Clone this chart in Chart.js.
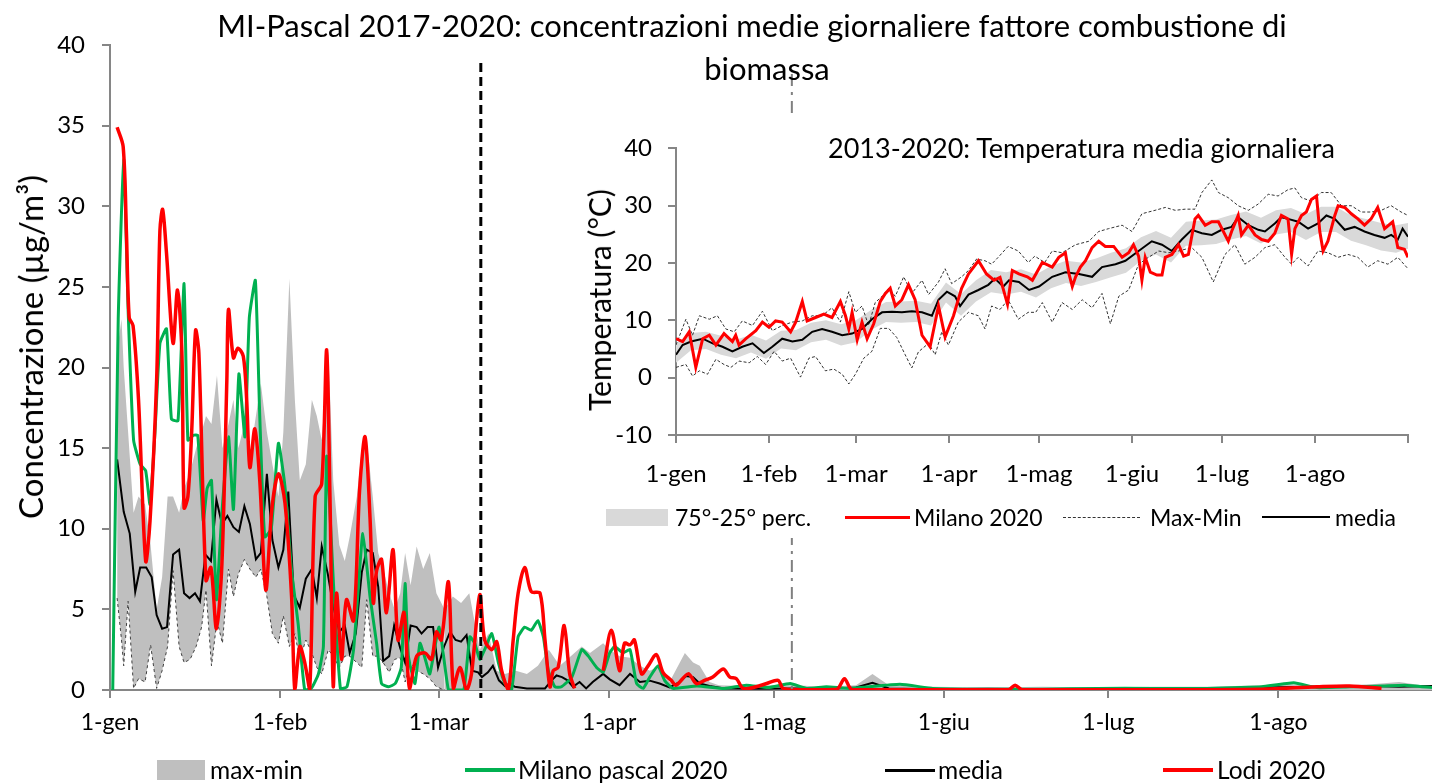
<!DOCTYPE html>
<html>
<head>
<meta charset="utf-8">
<script src="https://cdn.jsdelivr.net/npm/chart.js@4.4.1/dist/chart.umd.min.js"></script>
<style>
  body { margin: 0; background: #fff; font-family: Lato, sans-serif; color: #000; }
  #wrap { position: relative; width: 1432px; height: 784px; overflow: hidden; }
  .abs { position: absolute; white-space: nowrap; }
  .ttl { font-size: 31px; line-height: 36px; text-align: center; }
  .vtitle { transform: translate(-50%, -50%) rotate(-90deg); }
  .leg { font-size: 24.5px; line-height: 24px; }
  .ileg { font-size: 23px; line-height: 24px; }
</style>
</head>
<body>
<div id="wrap">
  <canvas id="mainChart" width="1432" height="784" class="abs" style="left:0;top:0"></canvas>
  <div class="abs ttl" style="left:0;top:7px;width:1504px">MI-Pascal 2017-2020: concentrazioni medie giornaliere fattore combustione di</div>
  <div class="abs ttl" style="left:0;top:50px;width:1534px">biomassa</div>
  <div class="abs vtitle" style="left:30px;top:347px;font-size:33px">Concentrazione (µg/m³)</div>
  <div id="insetBox" class="abs" style="left:580px;top:118px;width:845px;height:420px;background:#fff">
    <canvas id="insetChart" width="845" height="420"></canvas>
  </div>
  <div class="abs" style="left:828px;top:132px;font-size:27px;line-height:32px">2013-2020: Temperatura media giornaliera</div>
  <div class="abs vtitle" style="left:599px;top:300px;font-size:30px">Temperatura (°C)</div>
  <div id="legends"></div>
</div>
<script>
// ---- Main chart data (day of year 2020, 0 = 1 Jan) ----
const MONTH_DAYS = [0, 31, 60, 91, 121, 152, 182, 213];
const MONTH_LABELS = ['1-gen', '1-feb', '1-mar', '1-apr', '1-mag', '1-giu', '1-lug', '1-ago'];
const LOCKDOWN_DAY = 67.6;   // dashed black marker
const PHASE2_DAY = 124.3;    // dash-dot grey marker

// Lodi 2020
const lodiDays = [
  1.3, 2.4, 3.0, 3.5, 4.2, 5.2, 6.5, 7.3, 8.5, 9.1,
  9.6, 10.3, 11.5, 12.3, 13.1, 13.5, 14.2, 14.9, 15.6, 16.2,
  17.5, 18.4, 19.4, 20.4, 21.3, 21.6, 22.5, 23.3, 24.3, 24.9,
  25.5, 26.4, 27.3, 28.4, 29.5, 30.7, 31.9, 33.1, 33.7, 34.6,
  35.5, 36.4, 37.4, 38.6, 39.5, 40.1, 40.7, 41.3, 42.2, 43.1,
  44.4, 45.5, 46.5, 47.4, 48.0, 48.6, 49.5, 50.4, 51.6, 52.5,
  53.6, 54.6, 55.9, 57.4, 58.6, 59.5, 60.4, 61.7, 62.6, 63.8,
  65.0, 65.9, 67.4, 68.3, 69.6, 70.5, 71.4, 72.6, 73.5, 74.4,
  75.6, 76.8, 78.4, 79.3, 80.2, 80.8, 81.7, 82.8, 83.8, 84.7,
  87.0, 89.9, 91.4, 92.9, 93.8, 94.8, 95.6, 96.9, 98.1, 99.6,
  100.8, 102.3, 103.2, 105.4, 106.9, 108.4, 109.9, 111.8, 113.0, 114.2,
  115.4, 117.8, 119.7, 121.8, 122.7, 126, 132.5, 133.9, 135.3, 150,
  163.8, 165, 166.3, 190, 210, 220, 226, 231.8
];
const lodiVals = [
  34.9, 33.7, 28.3, 23.1, 22.6, 18.0, 8.0, 10.5, 19.2, 28.5,
  29.8, 27.1, 21.5, 24.8, 21.0, 11.3, 12.0, 16.1, 22.3, 20.9,
  6.8, 7.6, 3.8, 7.8, 19.2, 23.6, 20.6, 21.2, 20.7, 18.1,
  13.8, 16.2, 13.0, 6.2, 11.2, 13.4, 11.6, 5.8, 0, 2.7,
  1.7, 0, 12.0, 12.8, 21.1, 12.0, 0.2, 6.0, 1.9, 5.6,
  4.3, 12.4, 15.7, 10.7, 5.4, 7.4, 8.1, 4.8, 8.7, 3.1,
  4.8, 0.1, 2.1, 2.3, 1.9, 3.6, 3.1, 6.7, 0.1, 1.4,
  0, 1.0, 5.9, 3.1, 2.5, 3.0, 1.2, 0, 3.1, 6.0,
  7.6, 6.1, 6.0, 3.1, 0.2, 1.2, 1.4, 4.0, 1.0, 0.1,
  null, 1.2, 3.7, 1.2, 2.9, 2.8, 3.1, 1.0, 1.5, 2.2,
  1.1, 0.6, 0.3, 1.0, 0.4, 0.6, 0.8, 1.3, 0.8, 0.7,
  0.1, 0.2, 0.4, 0.6, 0.1, 0.02, 0.05, 0.7, 0.02, 0.02,
  0.02, 0.3, 0.02, 0.02, 0.05, 0.2, 0.25, 0.1
];

// Milano pascal 2020
const pascalDays = [
  0.5, 1.5, 2.5, 3.3, 4.3, 5.5, 6.5, 7.3, 8.2, 9.1,
  10.3, 11.2, 12.4, 13.5, 14.2, 15.2, 16.0, 17.0, 17.7, 18.5,
  19.4, 20.4, 21.6, 22.5, 23.5, 24.6, 25.4, 26.5, 27.3, 28.2,
  29.4, 30.7, 31.9, 33.1, 34.3, 35.5, 36.7, 38.0, 38.9, 39.5,
  40.8, 42.0, 43.2, 44.4, 45.2, 46.1, 47.4, 48.6, 49.5, 50.8,
  52.0, 53.1, 53.8, 54.4, 55.6, 56.5, 57.4, 58.3, 60.0, 61.7,
  63.0, 64.5, 65.6, 66.5, 67.4, 68.3, 69.6, 70.8, 72.0, 73.2,
  74.4, 75.6, 76.8, 78.0, 79.0, 79.9, 81.1, 82.3, 84.2, 86.0,
  87.2, 88.7, 89.9, 91.1, 92.0, 93.5, 94.8, 96.0, 97.2, 98.4,
  99.9, 101.1, 102.6, 107, 112, 116, 120, 124, 127, 130.6,
  135, 144, 150, 160, 170, 180, 190, 200, 206, 210,
  215.8, 220, 226, 232, 236, 241
];
const pascalVals = [
  0, 23, 32.9, 23.6, 15.5, 14.0, 13.6, 11.5, 16.0, 21.5,
  22.4, 16.8, 16.7, 25.2, 15.5, 15.8, 15.8, 10.5, 12.5, 13.0,
  5.6, 11.0, 15.7, 11.2, 19.6, 15.7, 23.1, 25.4, 17.0, 9.5,
  10.0, 15.3, 12.6, 7.4, 4.1, 0, 0.1, 1.0, 2.7, 14.5,
  6.2, 0.1, 0.2, 2.5, 6.0, 9.7, 5.8, 2.9, 0.4, 0.2,
  0.4, 1.4, 6.6, 2.1, 0.4, 2.9, 2.0, 1.0, 3.9, 0,
  0, 0, 3.3, 2.9, 1.9, 2.5, 3.5, 1.7, 0.4, 0,
  3.3, 3.9, 3.7, 4.3, 3.3, 1.2, 0.2, 0.2, 0.8, 2.5,
  2.1, 1.4, 1.1, 2.3, 2.7, 2.3, 2.5, 0.4, 0.1, 0.8,
  1.5, 0.6, 0.1, 0.25, 0.1, 0.3, 0.15, 0.4, 0.1, 0.2,
  0.1, 0.35, 0.1, 0.05, 0.05, 0.1, 0.1, 0.1, 0.15, 0.2,
  0.45, 0.15, 0.2, 0.25, 0.3, 0.15
];

// media 2017-2020
const mediaDays = [
  1.3, 2.5, 3.6, 4.6, 5.5, 6.6, 7.6, 8.5, 9.5, 10.4,
  11.5, 12.6, 13.5, 14.5, 15.5, 16.4, 17.4, 18.4, 19.4, 20.4,
  21.4, 22.5, 23.5, 24.5, 25.5, 26.6, 27.5, 28.6, 29.6, 30.7,
  31.6, 32.5, 33.5, 34.6, 35.7, 36.8, 37.7, 38.6, 39.7, 40.7,
  41.8, 42.8, 43.7, 44.8, 45.9, 46.8, 47.9, 48.9, 49.8, 50.9,
  51.8, 52.9, 53.8, 54.8, 55.9, 56.8, 57.9, 58.9, 59.8, 60.9,
  62, 63, 64, 65, 66, 67.1, 67.8, 68.9, 69.8, 70.9,
  72, 72.9, 73.8, 76, 79.3, 80.5, 81.4, 82.4, 83.4, 84.4,
  85.6, 86.8, 88, 89.9, 91.1, 92.9, 94.8, 96.6, 98.4, 100.2,
  102, 103.9, 105, 106.3, 107.5, 109.3, 112, 118, 125, 132,
  136, 139, 142, 150, 160, 170, 180, 190, 200, 210,
  220, 226, 230, 235, 241
];
const mediaVals = [
  14.3, 11.05, 9.7, 6.1, 7.6, 7.6, 7.0, 4.65, 3.8, 3.9,
  8.4, 8.7, 6.0, 5.7, 6.0, 5.5, 8.4, 8.0, 11.8, 10.3,
  10.8, 10.1, 9.8, 11.4, 10.3, 8.1, 8.5, 13.4, 9.3, 7.6,
  8.7, 12.3, 5.9, 5.1, 6.9, 7.5, 5.7, 8.9, 7.2, 5.2,
  3.6, 4.0, 2.3, 3.5, 7.3, 8.7, 8.5, 6.4, 1.8, 2.1,
  4.0, 2.6, 1.7, 4.0, 3.9, 3.5, 3.9, 3.9, 1.4, 2.7,
  3.6, 3.1, 3.0, 3.4, 1.2, 1.1, 0.8, 1.1, 1.5, 0.6,
  0.25, 0.4, 0.2, 0.1, 0.1, 0.6, 0.9, 0.8, 0.6, 0.2,
  0.5, 0.1, 0.5, 1.0, 0.66, 0.3, 1.0, 0.5, 0.58, 0.4,
  0.16, 0.5, 0.87, 0.8, 0.4, 0.25, 0.1, 0.08, 0.1, 0.1,
  0.15, 0.45, 0.1, 0.05, 0.08, 0.05, 0.05, 0.1, 0.1, 0.15,
  0.2, 0.2, 0.25, 0.2, 0.25
];

// max-min band 2017-2020
const bandDays = [
  1.3, 2.1, 2.5, 3.3, 4.3, 5.2, 6.4, 7.4, 8.5, 9.5,
  10.5, 11.5, 12.6, 13.5, 14.6, 15.7, 16.7, 17.5, 18.5, 19.5,
  20.5, 21.6, 22.5, 23.4, 24.5, 25.5, 26.6, 27.5, 28.6, 29.6,
  30.7, 31.6, 32.7, 33.7, 34.6, 35.7, 36.8, 37.7, 38.6, 39.8,
  40.7, 41.8, 42.8, 43.7, 45.0, 45.9, 46.8, 47.9, 48.9, 49.8,
  50.9, 51.9, 52.9, 53.8, 54.8, 55.9, 57.1, 58.3, 59.5, 61,
  62.5, 64, 65.5, 67.4, 69, 70.5, 72, 74, 76, 78,
  80, 82, 84, 86, 87.5, 89.9, 91.1, 92.9, 94.8, 96.6,
  98.4, 100.2, 102, 104.8, 106.3, 107.5, 109.3, 111, 115, 120,
  125, 130, 136, 139, 142, 150, 160, 170, 180, 190,
  200, 210, 215, 220, 225, 230, 235, 241
];
const bandMax = [
  21, 23, 20, 16, 11, 12, 11.5, 9, 5, 7,
  12, 12, 11, 12.5, 13.5, 15, 16, 17, 16.5, 19.5,
  15, 16.5, 18, 15, 16.5, 14.5, 17, 19, 16, 14,
  12, 16, 25.5, 18, 13, 14, 18, 17, 15.5, 21,
  13, 9, 8, 9.5, 12, 15, 15.5, 12, 8.5, 7.5,
  6, 5, 6, 8.5, 6.5, 8.9, 7.5, 8.5, 6, 5,
  5.8, 5.4, 6, 2.5, 3.5, 1.2, 1, 1.2, 1, 1.5,
  2.5, 1.5, 2.1, 2.7, 2.3, 2.9, 2.5, 2.1, 2, 1.5,
  1.2, 1.5, 0.5, 2.3, 1.7, 1.5, 0.5, 0.3, 0.25, 0.3,
  0.3, 0.2, 0.3, 1, 0.3, 0.2, 0.15, 0.2, 0.15, 0.2,
  0.2, 0.3, 0.35, 0.3, 0.3, 0.35, 0.5, 0.2
];
const bandMin = [
  5.7, 3.1, 1.5, 5.5, 0.1, 0.7, 0.5, 2.8, 0.1, 1.2,
  2.7, 7.4, 2.7, 1.7, 1.9, 2.7, 3.9, 6.2, 1.5, 4.3,
  2.9, 7.5, 5.8, 7.2, 8.1, 7.5, 7.0, 7.5, 5.8, 3.5,
  2.9, 4.6, 2.7, 3.5, 1.9, 3.1, 2.3, 1.4, 1.0, 2.5,
  2.1, 1.4, 2.1, 2.1, 1.7, 1.4, 5.6, 2.1, 2.1, 1.7,
  1.1, 1.9, 2.0, 0.5, 1.7, 1.2, 1.0, 0.7, 0.2, 0,
  0, 0, 0, 0, 0, 0, 0, 0, 0, 0,
  0, 0, 0, 0, 0, 0, 0, 0, 0, 0,
  0, 0, 0, 0, 0, 0, 0, 0, 0, 0,
  0, 0, 0, 0, 0, 0, 0, 0, 0, 0,
  0, 0, 0, 0, 0, 0, 0, 0
];

// ---- Inset: temperature 2013-2020 ----
const tMeanDays = [
  0, 2.2, 5, 8.9, 12.2, 15.5, 18.8, 22.1, 25.5, 29.3,
  32.1, 35.4, 38.8, 42.1, 45.4, 48.7, 52, 55.4, 58.7, 62,
  65.3, 68.7, 72, 75.3, 78.6, 82, 85.3, 87.5, 90.3, 93,
  94.7, 97.5, 100.8, 104.1, 106.3, 109.1, 111, 114.3, 117.7, 121,
  125.4, 129.8, 134.3, 138.7, 142, 146.5, 149.8, 154.2, 158.6, 162,
  165.3, 168.6, 171.9, 175.3, 178.6, 181.9, 185.2, 187.4, 190.8, 194.1,
  196.3, 199.6, 201.8, 204, 207.4, 210.7, 214, 216.8, 219.6, 222.9,
  226.2, 229.5, 232.8, 236.2, 238.4, 240.6, 242.2, 244
];
const tMeanVals = [
  4.0, 5.7, 6.3, 6.8, 6.0, 5.4, 4.6, 5.4, 6.0, 4.3,
  5.4, 6.8, 6.3, 6.6, 8.0, 8.5, 8.0, 7.4, 7.7, 8.5,
  10.2, 11.4, 11.5, 11.4, 11.6, 11.4, 10.8, 13.6, 15.0, 14.2,
  12.5, 14.5, 15.3, 16.2, 17.3, 15.9, 17.0, 16.7, 15.3, 15.9,
  17.6, 18.4, 18.1, 17.6, 19.3, 19.8, 20.4, 22.1, 23.8, 23.2,
  22.1, 24.1, 25.8, 25.2, 24.9, 25.8, 26.3, 28.0, 26.6, 25.8,
  25.5, 26.9, 28.0, 27.7, 27.2, 26.0, 26.9, 28.3, 27.7, 25.8,
  26.3, 25.5, 24.9, 24.4, 24.9, 24.1, 26.0, 24.6
];
const tMilanoDays = [
  0, 2.2, 4.4, 6.6, 8.9, 11.1, 13.3, 16, 18.8, 19.9,
  21, 23.3, 26.6, 28.8, 31, 33.2, 35.4, 38.2, 39.9, 42.1,
  43.7, 46.5, 49.3, 52, 54.8, 56.5, 57.6, 58.7, 60.4, 62,
  63.7, 65.9, 68.1, 69.8, 71.4, 73.1, 75.3, 77.5, 79.7, 82,
  84.7, 87.5, 89.7, 92.5, 95.2, 97.5, 100.8, 103.5, 106, 108,
  110.5, 112.1, 114.3, 117.1, 118.8, 122.1, 125.4, 127.6, 129.8, 131,
  132.1, 133.2, 134.8, 136.5, 138.7, 140.9, 143.1, 145.9, 148.7, 150.9,
  152.5, 154.2, 155.3, 156.4, 158.1, 160.3, 162, 163.1, 165.3, 167.5,
  169.2, 170.8, 173, 174.1, 176.4, 178.6, 180.8, 184.1, 185.2, 187.4,
  188.5, 190.8, 193, 195.2, 197.4, 199.6, 201.8, 204, 205.2, 206.3,
  208.5, 210.1, 211.8, 213.5, 214.6, 215.7, 217.3, 219.6, 220.7, 222.9,
  225.1, 227.3, 229.5, 231.7, 233.9, 236.2, 238.9, 240.6, 242.8, 244
];
const tMilanoVals = [
  6.8, 6.3, 8.0, 1.8, 6.8, 7.4, 5.7, 7.7, 6.3, 7.4,
  5.7, 6.8, 8.2, 9.7, 8.8, 9.9, 9.7, 8.0, 9.7, 13.3,
  9.9, 10.5, 11.1, 10.5, 13.3, 10.8, 8.5, 11.4, 6.6, 9.7,
  6.8, 9.4, 13.3, 14.7, 15.6, 12.5, 13.6, 16.2, 13.6, 7.4,
  5.4, 12.5, 7.1, 10.8, 15.6, 18.1, 20.4, 18.1, 17.0, 17.5,
  12.8, 18.7, 18.1, 17.6, 17.0, 20.1, 19.3, 21.0, 21.8, 18.1,
  15.9, 17.6, 19.3, 20.4, 22.7, 23.8, 22.9, 22.9, 21.0, 21.8,
  23.2, 21.2, 17.0, 21.0, 18.4, 17.9, 17.9, 21.0, 21.5, 23.2,
  21.2, 21.5, 27.7, 28.3, 26.6, 27.2, 27.2, 23.8, 25.5, 28.3,
  24.9, 26.6, 24.9, 24.1, 23.8, 25.2, 28.3, 27.7, 21.5, 26.0,
  28.3, 28.9, 31.1, 31.7, 25.5, 22.1, 23.8, 28.3, 30.0, 29.7,
  28.6, 27.7, 26.6, 27.7, 29.7, 26.0, 27.2, 22.7, 22.4, 21.0
];
const tMaxDays = [
  0, 3.3, 5.5, 7.8, 11.1, 13.8, 16.6, 19.4, 22.1, 25.5,
  28.8, 32.1, 35.4, 38.8, 42.1, 45.4, 48.7, 52, 54.8, 57.6,
  59.8, 62, 64.2, 66.4, 68.7, 70.9, 73.1, 75.9, 78.6, 82,
  84.2, 87.5, 89.7, 91.9, 95.2, 97.5, 100.2, 103, 105.2, 107.4,
  110.7, 114.1, 117.4, 119.6, 122.9, 125.4, 128.7, 133.2, 137.6, 140.9,
  144.2, 148.7, 152, 155.3, 159.7, 163.1, 166.4, 169.7, 173, 175.3,
  178.6, 180.8, 184.1, 187.4, 190.8, 194.1, 197.4, 200.7, 204, 206.3,
  208.5, 211.8, 215.1, 218.4, 221.8, 225.1, 228.4, 231.7, 235.1, 238.4,
  241.7, 244
];
const tMaxVals = [
  5.7, 10.2, 7.4, 10.8, 10.2, 10.8, 8.5, 8.0, 9.9, 9.1,
  11.6, 8.2, 9.1, 9.7, 9.9, 10.8, 10.8, 12.2, 9.7, 15.0,
  11.4, 12.5, 9.1, 13.1, 14.2, 15.6, 14.2, 17.6, 14.7, 17.0,
  14.5, 16.7, 19.0, 16.4, 17.6, 18.7, 20.7, 20.4, 19.8, 21.0,
  22.9, 22.1, 20.1, 21.2, 20.1, 22.1, 21.8, 23.2, 23.8, 25.5,
  26.0, 26.6, 25.5, 28.6, 29.2, 29.7, 29.2, 29.4, 29.4, 32.3,
  34.5, 32.3, 31.4, 30.0, 29.2, 30.3, 32.0, 31.7, 32.8, 33.1,
  31.4, 30.8, 32.3, 32.3, 30.0, 30.0, 28.9, 28.9, 29.2, 30.0,
  28.9, 28.3
];
const tMinDays = [
  0, 3.3, 5.5, 7.8, 10.5, 13.3, 16, 18.3, 21, 24.4,
  27.1, 29.9, 32.7, 35.4, 38.2, 41.5, 44.3, 46.5, 49.8, 52.6,
  55.4, 57.6, 59.8, 62.6, 65.3, 68.1, 70.9, 73.6, 76.4, 78.6,
  80.8, 84.2, 86.4, 88.6, 90.8, 94.1, 97.5, 100.8, 103, 105.2,
  108, 110.7, 114.1, 117.4, 119.9, 122.1, 125.4, 128.7, 132.1, 135.4,
  138.7, 142, 144.8, 147.6, 150.9, 154.2, 157.5, 160.9, 164.2, 167.5,
  171.9, 175.3, 179.1, 183, 186.3, 189.6, 193, 196.3, 199.6, 203,
  205.2, 207.4, 210.7, 214, 217.3, 220.7, 224, 227.3, 230.6, 233.9,
  237.3, 240.6, 244
];
const tMinVals = [
  1.8, 2.3, 0.3, 1.2, 0.6, 3.2, 2.3, 1.8, 2.9, 2.6,
  3.7, 2.3, 4.6, 2.9, 3.4, 0.1, 3.4, 3.7, 1.2, 1.5,
  0.6, -1.1, 0.6, 3.4, 4.6, 8.6, 8.6, 7.0, 4.0, 1.7,
  4.5, 6.0, 4.0, 8.0, 5.7, 9.7, 11.4, 10.8, 8.5, 12.5,
  11.9, 13.6, 10.2, 11.4, 11.4, 13.1, 9.7, 13.1, 11.9, 13.6,
  12.2, 14.7, 9.4, 14.2, 15.3, 19.8, 21.0, 22.1, 21.8, 22.1,
  22.7, 21.0, 16.7, 21.5, 23.2, 19.8, 21.0, 22.7, 23.2, 21.0,
  19.8, 21.0, 19.5, 22.1, 21.8, 21.0, 21.5, 21.0, 19.3, 20.4,
  19.8, 21.0, 19.0
];
const pctDays = [
  0, 5, 10, 15, 20, 25, 30, 35, 40, 45,
  50, 55, 60, 65, 70, 75, 80, 85, 90, 95,
  100, 105, 110, 115, 120, 125, 130, 135, 140, 145,
  150, 155, 160, 165, 170, 175, 180, 185, 190, 195,
  200, 205, 210, 215, 220, 225, 230, 235, 240, 244
];
const p75Vals = [
  6.0, 7.8, 8.0, 7.3, 6.6, 7.5, 6.5, 8.2, 8.3, 9.6,
  10.0, 9.3, 10.0, 11.8, 13.2, 13.3, 13.4, 12.9, 16.6, 14.6,
  17.0, 18.8, 18.4, 18.9, 18.0, 19.5, 20.4, 20.1, 20.8, 21.8,
  22.6, 24.5, 25.6, 24.4, 27.2, 27.4, 27.6, 28.4, 29.0, 27.9,
  29.2, 29.6, 28.5, 29.8, 29.8, 28.3, 27.7, 27.0, 26.6, 27.0
];
const p25Vals = [
  2.6, 4.8, 5.0, 4.0, 3.4, 4.4, 3.3, 5.1, 4.8, 6.2,
  6.6, 5.6, 6.2, 8.3, 9.7, 9.6, 9.7, 9.1, 13.1, 10.8,
  13.3, 14.9, 14.5, 15.0, 14.0, 15.6, 16.5, 16.0, 16.7, 17.5,
  18.3, 20.4, 21.5, 20.1, 23.0, 23.1, 23.3, 24.1, 24.7, 23.4,
  25.0, 25.4, 24.0, 25.4, 25.4, 23.9, 23.1, 22.2, 21.8, 22.5
];

// ---- helpers ----
Chart.defaults.font.family = 'Lato, sans-serif';
Chart.defaults.color = '#000';
const AXIS_GREY = '#868686';

function pts(days, vals) {
    return days.map((d, i) => ({ x: d, y: vals[i] }));
}

function monthAxis(max, extraTicks, fontSize, pad, height) {
    return {
        type: 'linear', min: 0, max: max,
        afterBuildTicks: s => { s.ticks = MONTH_DAYS.concat(extraTicks).map(v => ({ value: v })); },
        afterFit: s => { s.height = height; },
        ticks: {
            autoSkip: false, maxRotation: 0, padding: pad,
            font: { size: fontSize },
            callback: v => MONTH_LABELS[MONTH_DAYS.indexOf(v)] ?? ''
        },
        grid: { drawOnChartArea: false, drawTicks: true, tickLength: 8, color: AXIS_GREY, lineWidth: 2 },
        border: { color: AXIS_GREY, width: 2 }
    };
}

function valueAxis(min, max, step, fontSize, pad, width) {
    return {
        min: min, max: max,
        afterFit: s => { s.width = width; },
        ticks: { stepSize: step, padding: pad, font: { size: fontSize } },
        grid: { drawOnChartArea: false, drawTicks: true, tickLength: 8, color: AXIS_GREY, lineWidth: 2 },
        border: { color: AXIS_GREY, width: 2 }
    };
}

// vertical markers on the main chart
const markerPlugin = {
    id: 'markers',
    afterDatasetsDraw(chart) {
        const { ctx, scales: { x, y } } = chart;
        ctx.save();
        // lockdown: thick black dashed
        let px = x.getPixelForValue(LOCKDOWN_DAY);
        ctx.strokeStyle = '#000';
        ctx.lineWidth = 3;
        ctx.setLineDash([9, 5]);
        ctx.beginPath(); ctx.moveTo(px, 63); ctx.lineTo(px, y.bottom + 8); ctx.stroke();
        // phase 2: grey dash-dot
        px = x.getPixelForValue(PHASE2_DAY);
        ctx.strokeStyle = '#808080';
        ctx.lineWidth = 2;
        ctx.setLineDash([12, 6, 3, 6]);
        ctx.beginPath(); ctx.moveTo(px, 74); ctx.lineTo(px, y.bottom); ctx.stroke();
        ctx.restore();
    }
};

const mainChart = new Chart(document.getElementById('mainChart'), {
    type: 'line',
    data: {
        datasets: [
            { label: 'Lodi 2020', data: pts(lodiDays, lodiVals), borderColor: '#ff0000', borderWidth: 3.5, tension: 0.3, spanGaps: false },
            { label: 'Milano pascal 2020', data: pts(pascalDays, pascalVals), borderColor: '#00b050', borderWidth: 3, tension: 0.15 },
            { label: 'media', data: pts(mediaDays, mediaVals), borderColor: '#000', borderWidth: 2, tension: 0 },
            {
                label: 'min', data: pts(bandDays, bandMin), borderColor: '#404040', borderWidth: 1, borderDash: [3, 3],
                segment: { borderColor: c => (c.p0.parsed.y === 0 && c.p1.parsed.y === 0) ? 'rgba(0,0,0,0)' : '#404040' }
            },
            { label: 'max-min', data: pts(bandDays, bandMax), borderWidth: 0, borderColor: 'rgba(0,0,0,0)', backgroundColor: '#bfbfbf', fill: '-1' }
        ]
    },
    options: {
        responsive: false,
        animation: false,
        events: [],
        elements: { point: { radius: 0 } },
        layout: { padding: { top: 45, right: 0, bottom: 34, left: 0 } },
        plugins: { legend: { display: false }, tooltip: { enabled: false } },
        scales: {
            x: monthAxis(241, [], 23, 11, 60),
            y: valueAxis(0, 40, 5, 24, 17, 110)
        }
    },
    plugins: [markerPlugin]
});

const insetChart = new Chart(document.getElementById('insetChart'), {
    type: 'line',
    data: {
        datasets: [
            { label: 'Milano 2020', data: pts(tMilanoDays, tMilanoVals), borderColor: '#ff0000', borderWidth: 3 },
            { label: 'media', data: pts(tMeanDays, tMeanVals), borderColor: '#000', borderWidth: 2 },
            { label: 'Max', data: pts(tMaxDays, tMaxVals), borderColor: '#333', borderWidth: 1, borderDash: [3, 2] },
            { label: 'Min', data: pts(tMinDays, tMinVals), borderColor: '#333', borderWidth: 1, borderDash: [3, 2] },
            { label: '75°', data: pts(pctDays, p75Vals), borderWidth: 0, borderColor: 'rgba(0,0,0,0)' },
            { label: '25°', data: pts(pctDays, p25Vals), borderWidth: 0, borderColor: 'rgba(0,0,0,0)', backgroundColor: '#d9d9d9', fill: '-1' }
        ]
    },
    options: {
        responsive: false,
        animation: false,
        events: [],
        elements: { point: { radius: 0 } },
        layout: { padding: { top: 22, right: 14, bottom: 43, left: 0 } },
        plugins: { legend: { display: false }, tooltip: { enabled: false } },
        scales: {
            x: monthAxis(244, [244], 24, 17, 60),
            y: valueAxis(-10, 40, 10, 24, 16, 96)
        }
    }
});

// ---- HTML legends (positions match the original layout) ----
function addLegend(items, cls, cy) {
    const host = document.getElementById('legends');
    items.forEach(it => {
        const sw = document.createElement('div');
        sw.className = 'abs';
        sw.style.left = it.x + 'px';
        sw.style.width = it.w + 'px';
        if (it.kind === 'dash') {
            sw.style.top = cy + 'px';
            sw.style.borderTop = '1px dashed ' + it.color;
        } else {
            sw.style.top = (cy - it.h / 2) + 'px';
            sw.style.height = it.h + 'px';
            sw.style.background = it.color;
        }
        host.appendChild(sw);
        const tx = document.createElement('div');
        tx.className = 'abs ' + cls;
        tx.style.left = it.tx + 'px';
        tx.style.top = (cy - 12) + 'px';
        tx.textContent = it.label;
        host.appendChild(tx);
    });
}

const mainSets = mainChart.data.datasets;
addLegend([
    { kind: 'box', x: 157, w: 48, h: 20, color: mainSets[4].backgroundColor, tx: 210, label: mainSets[4].label },
    { kind: 'line', x: 465, w: 50, h: 4, color: mainSets[1].borderColor, tx: 518, label: mainSets[1].label },
    { kind: 'line', x: 885, w: 50, h: 3, color: mainSets[2].borderColor, tx: 938, label: mainSets[2].label },
    { kind: 'line', x: 1163, w: 50, h: 4, color: mainSets[0].borderColor, tx: 1217, label: mainSets[0].label }
], 'leg', 770);

const insetSets = insetChart.data.datasets;
addLegend([
    { kind: 'box', x: 606, w: 62, h: 17, color: insetSets[5].backgroundColor, tx: 675, label: '75°-25° perc.' },
    { kind: 'line', x: 845, w: 65, h: 3, color: insetSets[0].borderColor, tx: 914, label: insetSets[0].label },
    { kind: 'dash', x: 1063, w: 77, h: 1, color: '#333', tx: 1150, label: 'Max-Min' },
    { kind: 'line', x: 1262, w: 68, h: 2, color: insetSets[1].borderColor, tx: 1335, label: insetSets[1].label }
], 'ileg', 517);
</script>
</body>
</html>
